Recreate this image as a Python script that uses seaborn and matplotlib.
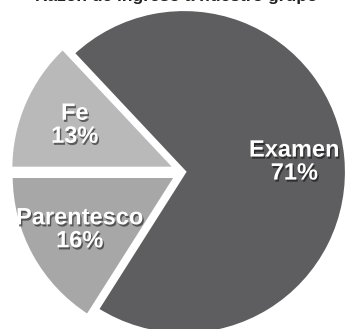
import matplotlib
matplotlib.use("Agg")
import matplotlib.pyplot as plt
import matplotlib.patheffects as pe
import seaborn as sns
import numpy as np

# ---- data ----
categories = ["Parentesco", "Examen", "Fe"]
values = [16, 71, 13]
pct_labels = ["16%", "71%", "13%"]
title_text = "Razón de ingreso a nuestro grupo"

sns.set_theme(style="white")
plt.rcParams['font.family'] = ['Liberation Sans', 'DejaVu Sans']

colors = ["#a7a7a7", "#5e5e60", "#b9b9b9"]

W, H = 345, 329
fig = plt.figure(figsize=(W / 100, H / 100), dpi=100)
fig.patch.set_facecolor("white")
cx, cy, r = 184, 172, 163
ax = fig.add_axes([(cx - r) / W, (H - cy - r) / H, 2 * r / W, 2 * r / H])

wedges, _ = ax.pie(values, colors=colors, startangle=180, counterclock=True,
                   explode=[0.05, 0, 0.05],
                   wedgeprops=dict(edgecolor='white', linewidth=3))
for i, w in enumerate(wedges):
    w.set_clip_on(False)
    if i != 1:
        w.set_radius(1.02)
ax.set_xlim(-1, 1)
ax.set_ylim(-1, 1)
ax.set_aspect('equal')
ax.axis('off')

shadow = [pe.SimplePatchShadow(offset=(1.0, -1.5), shadow_rgbFace='black', alpha=0.5),
          pe.Normal()]
for w, cat, pct in zip(wedges, categories, pct_labels):
    th = np.deg2rad((w.theta1 + w.theta2) / 2)
    x0, y0 = w.center
    d = 0.68
    ax.text(x0 + d * np.cos(th), y0 + d * np.sin(th), f"{cat}\n{pct}",
            ha='center', va='center', color='white', fontsize=17,
            fontweight='bold', linespacing=1.0, path_effects=shadow,
            multialignment='center')

fig.text(0.51, 1 - 1.5 / H, title_text, ha='center', va='baseline',
         fontsize=12.5, fontweight='bold', color='#222222')

fig.savefig("out.png", dpi=100, facecolor="white")
